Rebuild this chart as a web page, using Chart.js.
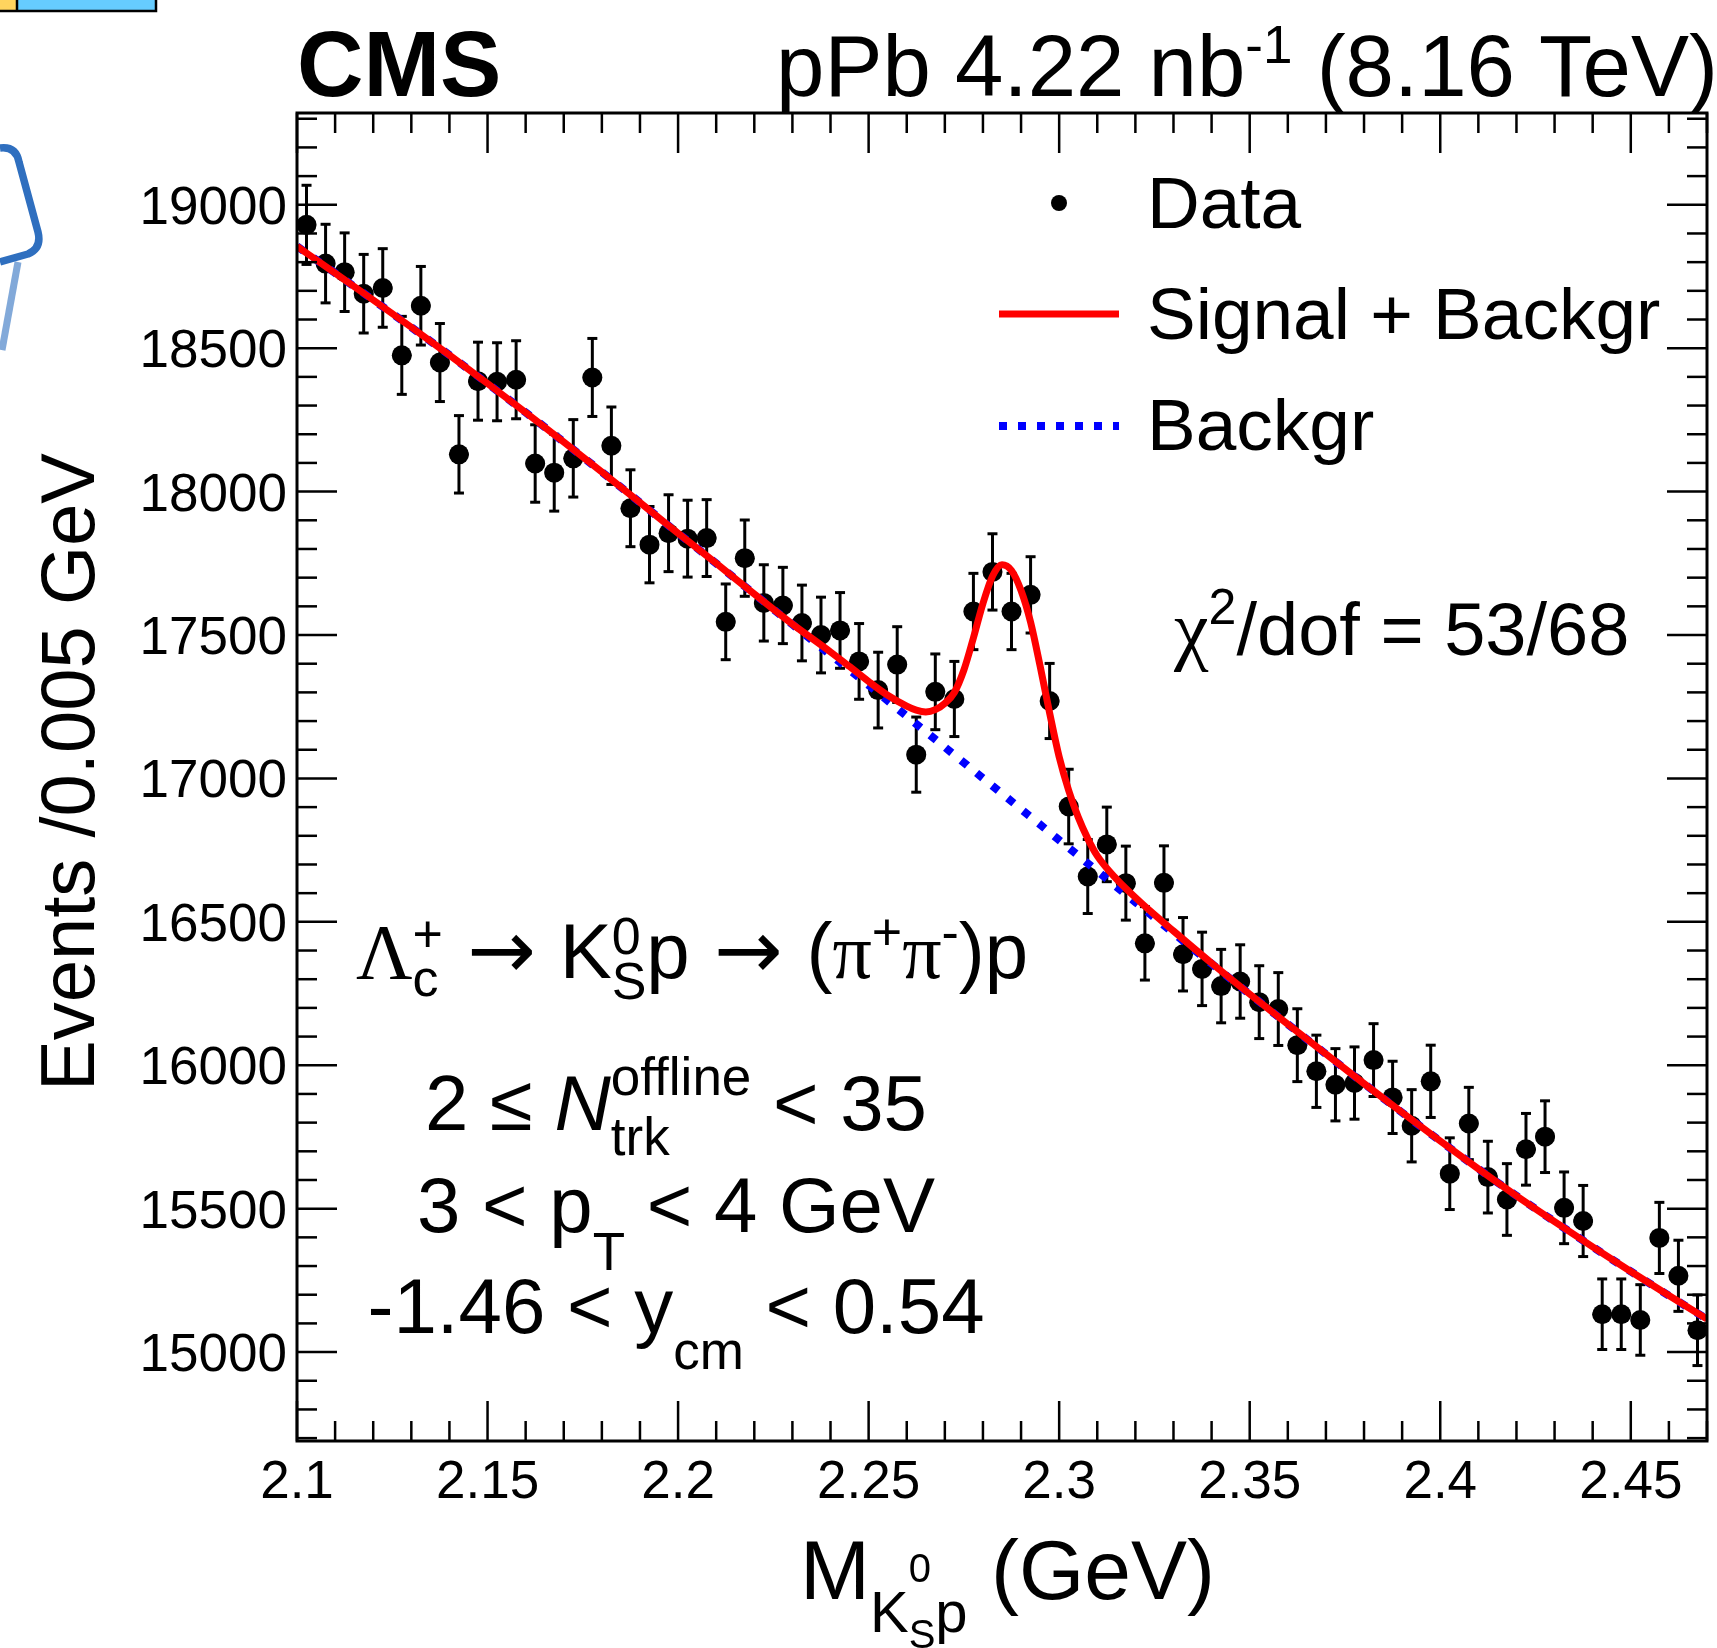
<!DOCTYPE html>
<html>
<head>
<meta charset="utf-8">
<title>Lambda_c+ to K0S p invariant mass</title>
<script src="https://cdn.jsdelivr.net/npm/chart.js@4.4.1/dist/chart.umd.min.js"></script>
<style>
  html, body { margin: 0; padding: 0; background: #fff; }
  #wrap { width: 1717px; height: 1648px; position: relative; }
</style>
</head>
<body>
<div id="wrap"><canvas id="massChart" width="1717" height="1648"></canvas></div>
<script>
// ---- data ----
const binWidth = 0.005; // GeV

const massBins = [
  2.1025, 2.1075, 2.1125, 2.1175, 2.1225, 2.1275, 2.1325, 2.1375, 2.1425, 2.1475,
  2.1525, 2.1575, 2.1625, 2.1675, 2.1725, 2.1775, 2.1825, 2.1875, 2.1925, 2.1975,
  2.2025, 2.2075, 2.2125, 2.2175, 2.2225, 2.2275, 2.2325, 2.2375, 2.2425, 2.2475,
  2.2525, 2.2575, 2.2625, 2.2675, 2.2725, 2.2775, 2.2825, 2.2875, 2.2925, 2.2975,
  2.3025, 2.3075, 2.3125, 2.3175, 2.3225, 2.3275, 2.3325, 2.3375, 2.3425, 2.3475,
  2.3525, 2.3575, 2.3625, 2.3675, 2.3725, 2.3775, 2.3825, 2.3875, 2.3925, 2.3975,
  2.4025, 2.4075, 2.4125, 2.4175, 2.4225, 2.4275, 2.4325, 2.4375, 2.4425, 2.4475,
  2.4525, 2.4575, 2.4625, 2.4675
];

const eventCounts = [
  18930, 18795, 18765, 18690, 18710, 18475, 18648, 18450, 18130, 18385,
  18383, 18390, 18098, 18066, 18116, 18398, 18160, 17942, 17815, 17855,
  17836, 17838, 17546, 17768, 17612, 17603, 17542, 17500, 17516, 17408,
  17308, 17397, 17083, 17302, 17277, 17582, 17720, 17582, 17640, 17270,
  16902, 16658, 16770, 16635, 16425, 16636, 16387, 16336, 16276, 16292,
  16220, 16196, 16070, 15979, 15932, 15938, 16018, 15888, 15789, 15944,
  15622, 15797, 15610, 15532, 15707, 15751, 15503, 15457, 15132, 15132,
  15112, 15398, 15266, 15076
];

const eventErrors = [
  138, 137, 137, 137, 137, 136, 137, 136, 135, 136,
  136, 136, 135, 134, 135, 136, 135, 134, 133, 134,
  134, 134, 132, 133, 133, 133, 132, 132, 132, 132,
  132, 132, 131, 132, 131, 133, 133, 133, 133, 131,
  130, 129, 130, 129, 128, 129, 128, 128, 128, 128,
  127, 127, 127, 126, 126, 126, 127, 126, 126, 126,
  125, 126, 125, 125, 125, 125, 125, 124, 123, 123,
  123, 124, 124, 123
];

// background component of the fit (blue dotted)
const bkgMass = [
  2.10, 2.11, 2.12, 2.13, 2.14, 2.15, 2.16, 2.17, 2.18, 2.19,
  2.20, 2.21, 2.22, 2.23, 2.24, 2.25, 2.26, 2.27, 2.28, 2.29,
  2.30, 2.31, 2.32, 2.33, 2.34, 2.35, 2.36, 2.37, 2.38, 2.39,
  2.40, 2.41, 2.42, 2.43, 2.44, 2.45, 2.46, 2.47
];
const bkgCurve = [
  18855, 18762, 18668, 18573, 18476, 18377, 18276, 18173, 18068, 17962,
  17855, 17750, 17643, 17537, 17431, 17325, 17217, 17109, 17001, 16893,
  16785, 16677, 16569, 16461, 16354, 16248, 16143, 16039, 15936, 15835,
  15736, 15639, 15545, 15455, 15367, 15281, 15197, 15115
];

// signal + background (red), sampled finer across the peak
const fitMass = [
  2.10, 2.11, 2.12, 2.13, 2.14, 2.15, 2.16, 2.17, 2.18, 2.19,
  2.20, 2.21, 2.22, 2.23, 2.24, 2.245, 2.25, 2.255, 2.26, 2.2625,
  2.265, 2.2675, 2.27, 2.2725, 2.275, 2.2775, 2.28, 2.2825, 2.285, 2.2875,
  2.29, 2.2925, 2.295, 2.2975, 2.30, 2.3025, 2.305, 2.3075, 2.31, 2.315,
  2.32, 2.325, 2.33, 2.34, 2.35, 2.36, 2.37, 2.38, 2.39, 2.40,
  2.41, 2.42, 2.43, 2.44, 2.45, 2.46, 2.47
];
const fitCurve = [
  18855, 18762, 18668, 18573, 18476, 18377, 18276, 18173, 18068, 17962,
  17855, 17750, 17643, 17538, 17441, 17390, 17338, 17290, 17252, 17238,
  17232, 17240, 17262, 17300, 17378, 17490, 17610, 17705, 17745, 17725,
  17655, 17545, 17392, 17228, 17075, 16958, 16865, 16790, 16730, 16650,
  16585, 16525, 16468, 16356, 16248, 16143, 16039, 15936, 15835, 15736,
  15639, 15545, 15455, 15367, 15281, 15197, 15115
];

const xTickLabels = ['2.1', '2.15', '2.2', '2.25', '2.3', '2.35', '2.4', '2.45'];
const yTickLabels = ['15000', '15500', '16000', '16500', '17000', '17500', '18000', '18500', '19000'];

const xRange = [2.1, 2.47];
const yRange = [14690, 19320];

// ---- helpers ----
const SANS = '"Liberation Sans", Arial, Helvetica, sans-serif';
const SERIF = '"Liberation Serif", "Times New Roman", serif';
const ARROWS = '"DejaVu Sans", sans-serif';

function fontOf(p) {
  const fam = p.arrow ? ARROWS : p.serif ? SERIF : SANS;
  return (p.i ? 'italic ' : '') + (p.b ? 'bold ' : '') + p.s + 'px ' + fam;
}

// draws a run of text pieces; pieces with keep:true are stacked over the next one
function drawRich(ctx, parts, x, y, align) {
  const widths = parts.map(p => { ctx.font = fontOf(p); return ctx.measureText(p.t).width + (p.gap || 0); });
  let total = 0, hold = 0;
  parts.forEach((p, k) => {
    if (p.keep) hold = Math.max(hold, widths[k]);
    else { total += Math.max(hold, widths[k]); hold = 0; }
  });
  let cx = align === 'center' ? x - total / 2 : align === 'right' ? x - total : x;
  hold = 0;
  ctx.textAlign = 'left';
  ctx.textBaseline = 'alphabetic';
  parts.forEach((p, k) => {
    ctx.font = fontOf(p);
    ctx.fillText(p.t, cx + (p.gap || 0) / 2, y + (p.dy || 0));
    if (p.keep) hold = Math.max(hold, widths[k]);
    else { cx += Math.max(hold, widths[k]); hold = 0; }
  });
}

function seg(ctx, x1, y1, x2, y2) {
  ctx.beginPath();
  ctx.moveTo(x1, y1);
  ctx.lineTo(x2, y2);
  ctx.stroke();
}

// error bars (vertical stat. error + bin width), drawn just before the markers
const errorBars = {
  id: 'errorBars',
  beforeDatasetDraw(chart, args) {
    if (args.index !== 2) return;
    const { ctx, scales: { x, y } } = chart;
    ctx.save();
    ctx.strokeStyle = '#000';
    massBins.forEach((m, i) => {
      const px = x.getPixelForValue(m);
      const py = y.getPixelForValue(eventCounts[i]);
      const top = y.getPixelForValue(eventCounts[i] + eventErrors[i]);
      const bot = y.getPixelForValue(eventCounts[i] - eventErrors[i]);
      ctx.lineWidth = 3;
      seg(ctx, px, top, px, bot);
      seg(ctx, px - 5, top, px + 5, top);
      seg(ctx, px - 5, bot, px + 5, bot);
      ctx.lineWidth = 4;
      seg(ctx, x.getPixelForValue(m - binWidth / 2), py, x.getPixelForValue(m + binWidth / 2), py);
    });
    ctx.restore();
  }
};

// ROOT style frame, inward ticks on all four sides, labels and texts
const rootFrame = {
  id: 'rootFrame',
  afterDraw(chart) {
    const { ctx, chartArea: a, scales: { x, y } } = chart;
    ctx.save();
    ctx.strokeStyle = '#000';
    ctx.fillStyle = '#000';

    // ticks
    ctx.lineWidth = 2.5;
    for (let k = 0; k <= 37; k++) {
      const v = 2.1 + k * 0.01;
      const px = x.getPixelForValue(v);
      const len = (k % 5 === 0) ? 40 : 20;
      seg(ctx, px, a.bottom, px, a.bottom - len);
      seg(ctx, px, a.top, px, a.top + len);
    }
    for (let v = 14700; v <= 19300; v += 100) {
      const py = y.getPixelForValue(v);
      const len = (v % 500 === 0) ? 40 : 20;
      seg(ctx, a.left, py, a.left + len, py);
      seg(ctx, a.right, py, a.right - len, py);
    }
    ctx.lineWidth = 3;
    ctx.strokeRect(a.left, a.top, a.right - a.left, a.bottom - a.top);

    // tick labels
    ctx.font = '53px ' + SANS;
    ctx.textAlign = 'center';
    ctx.textBaseline = 'alphabetic';
    xTickLabels.forEach(t => ctx.fillText(t, x.getPixelForValue(parseFloat(t)), 1498));
    ctx.textAlign = 'right';
    yTickLabels.forEach(t => ctx.fillText(t, 287, y.getPixelForValue(parseFloat(t)) + 19));

    // axis titles
    ctx.save();
    ctx.translate(94, 772);
    ctx.rotate(-Math.PI / 2);
    ctx.font = '76px ' + SANS;
    ctx.textAlign = 'center';
    ctx.fillText('Events /0.005 GeV', 0, 0);
    ctx.restore();

    drawRich(ctx, [
      { t: 'M', s: 84 },
      { t: 'K', s: 58, dy: 33 },
      { t: '0', s: 40, dy: -17, keep: true },
      { t: 'S', s: 40, dy: 49 },
      { t: 'p', s: 58, dy: 33 },
      { t: ' (GeV)', s: 84 }
    ], 800, 1599, 'left');

    // header
    ctx.font = 'bold 92px ' + SANS;
    ctx.textAlign = 'left';
    ctx.fillText('CMS', 297, 96);
    drawRich(ctx, [
      { t: 'pPb 4.22 nb', s: 87 },
      { t: '-1', s: 53, dy: -33 },
      { t: ' (8.16 TeV)', s: 87 }
    ], 1718, 96, 'right');

    // legend
    ctx.beginPath();
    ctx.arc(1059, 203, 8, 0, Math.PI * 2);
    ctx.fill();
    ctx.strokeStyle = '#ff0000';
    ctx.lineWidth = 7;
    seg(ctx, 999, 314, 1119, 314);
    ctx.strokeStyle = '#0000ff';
    ctx.lineWidth = 8;
    ctx.setLineDash([8, 11]);
    seg(ctx, 999, 426, 1119, 426);
    ctx.setLineDash([]);
    ctx.font = '73px ' + SANS;
    ctx.textAlign = 'left';
    ctx.fillText('Data', 1147, 228);
    ctx.fillText('Signal + Backgr', 1147, 339);
    ctx.fillText('Backgr', 1147, 450);

    // fit quality
    drawRich(ctx, [
      { t: 'χ', s: 78, serif: true },
      { t: '2', s: 50, dy: -31 },
      { t: '/dof = 53/68', s: 74 }
    ], 1174, 655, 'left');

    // decay channel and selection
    drawRich(ctx, [
      { t: 'Λ', s: 78, serif: true },
      { t: '+', s: 52, dy: -26, keep: true },
      { t: 'c', s: 52, dy: 18 },
      { t: '→', s: 82, arrow: true, gap: 48 },
      { t: 'K', s: 78 },
      { t: '0', s: 52, dy: -24, keep: true },
      { t: 'S', s: 52, dy: 21 },
      { t: 'p', s: 78 },
      { t: '→', s: 82, arrow: true, gap: 48 },
      { t: '(', s: 78 },
      { t: 'π', s: 78, serif: true },
      { t: '+', s: 52, dy: -28 },
      { t: 'π', s: 78, serif: true },
      { t: '-', s: 52, dy: -28 },
      { t: ')p', s: 78 }
    ], 356, 978, 'left');

    drawRich(ctx, [
      { t: '2 ≤ ', s: 78 },
      { t: 'N', s: 78, i: true },
      { t: 'offline', s: 53, dy: -35, keep: true },
      { t: 'trk', s: 53, dy: 25 },
      { t: ' < 35', s: 78 }
    ], 676, 1130, 'center');

    drawRich(ctx, [
      { t: '3 < p', s: 78 },
      { t: 'T', s: 53, dy: 38 },
      { t: ' < 4 GeV', s: 78 }
    ], 676, 1232, 'center');

    drawRich(ctx, [
      { t: '-1.46 < y', s: 78 },
      { t: 'cm', s: 53, dy: 36 },
      { t: ' < 0.54', s: 78 }
    ], 676, 1333, 'center');

    // cropped logo pieces in the top-left corner
    ctx.fillStyle = '#66ccff';
    ctx.fillRect(0, -5, 156, 16);
    ctx.fillStyle = '#ffd45e';
    ctx.fillRect(0, -5, 16, 16);
    ctx.strokeStyle = '#000';
    ctx.lineWidth = 2.5;
    ctx.strokeRect(-3, -5, 159, 16);
    seg(ctx, 17, -5, 17, 11);

    ctx.strokeStyle = '#2f6fbf';
    ctx.lineWidth = 7.5;
    ctx.lineJoin = 'round';
    ctx.beginPath();
    ctx.moveTo(0, 148);
    ctx.quadraticCurveTo(16, 146, 19, 162);
    ctx.lineTo(38, 232);
    ctx.quadraticCurveTo(42, 248, 28, 254);
    ctx.lineTo(0, 262);
    ctx.stroke();
    ctx.globalAlpha = 0.6;
    ctx.lineWidth = 7;
    seg(ctx, 18, 262, 2, 350);
    ctx.restore();
  }
};

// ---- chart ----
const ctx = document.getElementById('massChart').getContext('2d');
new Chart(ctx, {
  type: 'line',
  data: {
    datasets: [{
      label: 'Signal + Backgr',
      data: fitMass.map((m, i) => ({ x: m, y: fitCurve[i] })),
      borderColor: '#ff0000',
      borderWidth: 7,
      pointRadius: 0,
      cubicInterpolationMode: 'monotone',
      fill: false
    }, {
      label: 'Backgr',
      data: bkgMass.map((m, i) => ({ x: m, y: bkgCurve[i] })),
      borderColor: '#0000ff',
      borderWidth: 8,
      borderDash: [8, 12],
      borderCapStyle: 'butt',
      pointRadius: 0,
      cubicInterpolationMode: 'monotone',
      fill: false
    }, {
      label: 'Data',
      data: massBins.map((m, i) => ({ x: m, y: eventCounts[i] })),
      showLine: false,
      pointRadius: 10,
      pointBackgroundColor: '#000',
      pointBorderWidth: 0,
      borderColor: '#000'
    }]
  },
  options: {
    responsive: false,
    animation: false,
    devicePixelRatio: 1,
    layout: { padding: { left: 297, right: 1, top: 113, bottom: 207 } },
    plugins: {
      legend: { display: false },
      tooltip: { enabled: false }
    },
    scales: {
      x: { type: 'linear', min: xRange[0], max: xRange[1], display: false },
      y: { type: 'linear', min: yRange[0], max: yRange[1], display: false }
    }
  },
  plugins: [errorBars, rootFrame]
});
</script>
</body>
</html>
